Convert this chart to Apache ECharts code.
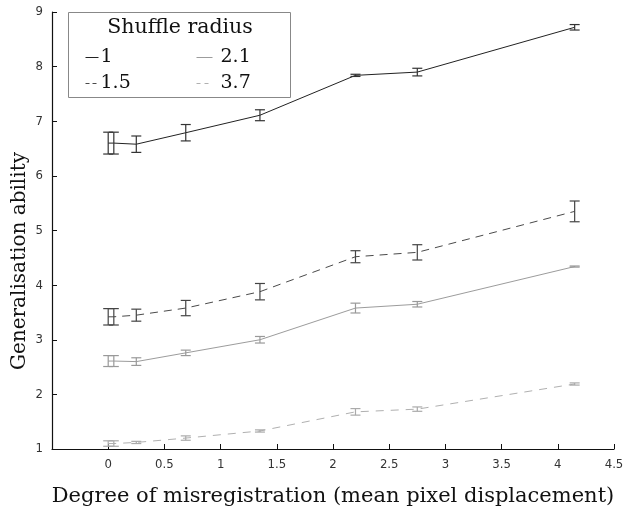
<!DOCTYPE html>
<html>
<head>
<meta charset="utf-8">
<script src="https://cdn.jsdelivr.net/npm/echarts@6/dist/echarts.min.js"></script>
<style>
  html, body { margin: 0; padding: 0; background: #fff; }
  #chart { width: 628px; height: 512px; }
</style>
</head>
<body>
<div id="chart"></div>
<script>
// misregistration values (mean pixel displacement)
let xValues = [0, 0.05, 0.25, 0.69, 1.35, 2.2, 2.75, 4.15];

let radii = ['1', '1.5', '2.1', '3.7'];

let mean1  = [6.6, 6.6, 6.58, 6.79, 7.11, 7.84, 7.9, 8.72];
let err1   = [0.2, 0.2, 0.15, 0.15, 0.1, 0.02, 0.07, 0.05];
let mean15 = [3.42, 3.42, 3.45, 3.58, 3.88, 4.52, 4.6, 5.35];
let err15  = [0.15, 0.15, 0.11, 0.14, 0.15, 0.11, 0.14, 0.19];
let mean21 = [2.61, 2.61, 2.6, 2.76, 3.0, 3.58, 3.65, 4.34];
let err21  = [0.1, 0.1, 0.07, 0.05, 0.06, 0.09, 0.05, 0.01];
let mean37 = [1.1, 1.1, 1.12, 1.2, 1.33, 1.68, 1.73, 2.19];
let err37  = [0.05, 0.05, 0.02, 0.04, 0.02, 0.06, 0.04, 0.02];

let xTicks = [0, 0.5, 1, 1.5, 2, 2.5, 3, 3.5, 4, 4.5];
let yTicks = [1, 2, 3, 4, 5, 6, 7, 8, 9];

let means = [mean1, mean15, mean21, mean37];
let errs  = [err1, err15, err21, err37];
let lineColors = ['#222', '#4a4a4a', '#9c9c9c', '#b0b0b0'];
let barColors  = ['#333', '#444', '#999', '#aaa'];
let dashes     = ['solid', [8, 6], 'solid', [8, 7]];

let serif = "'DejaVu Serif', 'Liberation Serif', serif";
let narrow = "'Liberation Sans Narrow', 'DejaVu Sans Condensed', 'Liberation Sans', sans-serif";

let chart = echarts.init(document.getElementById('chart'), null, {renderer: 'canvas'});

let series = [];
radii.forEach((r, i) => {
    series.push({
        name: r,
        type: 'line',
        symbol: 'none',
        data: xValues.map((x, j) => [x, means[i][j]]),
        lineStyle: {color: lineColors[i], width: 1, type: dashes[i]},
        itemStyle: {color: lineColors[i]},
        z: 3
    });
});
radii.forEach((r, i) => {
    series.push({
        type: 'custom',
        silent: true,
        clip: false,
        z: 4,
        data: xValues.map((x, j) => [x, means[i][j] - errs[i][j], means[i][j] + errs[i][j]]),
        encode: {x: 0, y: [1, 2]},
        renderItem: (params, api) => {
            let lo = api.coord([api.value(0), api.value(1)]);
            let hi = api.coord([api.value(0), api.value(2)]);
            let w = 5;
            let st = {stroke: barColors[i], lineWidth: 1.2};
            return {
                type: 'group',
                children: [
                    {type: 'line', shape: {x1: lo[0], y1: lo[1], x2: hi[0], y2: hi[1]}, style: st},
                    {type: 'line', shape: {x1: lo[0] - w, y1: lo[1], x2: lo[0] + w, y2: lo[1]}, style: st},
                    {type: 'line', shape: {x1: hi[0] - w, y1: hi[1], x2: hi[0] + w, y2: hi[1]}, style: st}
                ]
            };
        }
    });
});

let legendBase = {
    orient: 'vertical',
    top: 43,
    itemWidth: 13,
    itemHeight: 10,
    itemGap: 7,
    z: 10,
    selectedMode: false,
    itemStyle: {opacity: 0, color: 'rgba(0,0,0,0)', borderWidth: 0},
    textStyle: {fontFamily: serif, fontSize: 19, color: '#111', padding: [0, 0, 0, -3]}
};

let option = {
    animation: false,
    backgroundColor: '#fff',
    grid: {left: 52, right: 14, top: 12, bottom: 57},
    xAxis: {
        type: 'value',
        min: -0.5,
        max: 4.5,
        interval: 0.5,
        name: 'Degree of misregistration (mean pixel displacement)',
        nameLocation: 'middle',
        nameGap: 37,
        nameTextStyle: {fontFamily: serif, fontSize: 21, color: '#111'},
        axisLine: {onZero: false, lineStyle: {color: '#111', width: 1.2}},
        axisTick: {inside: true, length: 5, lineStyle: {color: '#111'}},
        axisLabel: {
            margin: 9,
            fontFamily: narrow,
            fontSize: 13,
            color: '#333',
            formatter: v => xTicks.indexOf(v) >= 0 ? String(v) : ''
        },
        splitLine: {show: false}
    },
    yAxis: {
        type: 'value',
        min: 1,
        max: 9,
        interval: 1,
        axisLine: {show: true, onZero: false, lineStyle: {color: '#111', width: 1.2}},
        axisTick: {show: true, inside: true, length: 5, lineStyle: {color: '#111'}},
        axisLabel: {
            margin: 9,
            fontFamily: narrow,
            fontSize: 13,
            color: '#333',
            formatter: v => yTicks.indexOf(v) >= 0 ? String(v) : ''
        },
        splitLine: {show: false}
    },
    legend: [
        Object.assign({}, legendBase, {
            left: 80,
            data: [
                {name: radii[0], lineStyle: {width: 1}},
                {name: radii[1], lineStyle: {width: 1, type: [4, 3]}}
            ]
        }),
        Object.assign({}, legendBase, {
            left: 191,
            itemWidth: 16,
            textStyle: {fontFamily: serif, fontSize: 19, color: '#111', padding: [0, 0, 0, 3]},
            data: [
                {name: radii[2], lineStyle: {width: 1}},
                {name: radii[3], lineStyle: {width: 1, type: [4, 4]}}
            ]
        })
    ],
    graphic: [
        {
            type: 'rect',
            z: 1,
            shape: {x: 68.5, y: 12.5, width: 222, height: 85},
            style: {fill: '#fff', stroke: '#888', lineWidth: 1}
        },
        {
            type: 'text',
            z: 2,
            x: 180,
            y: 28,
            style: {text: 'Shuffle radius', font: '20.5px ' + serif, fill: '#111', align: 'center', verticalAlign: 'middle'}
        },
        {
            type: 'text',
            z: 2,
            x: 20,
            y: 261,
            rotation: Math.PI / 2,
            style: {text: 'Generalisation ability', font: '20px ' + serif, fill: '#111', align: 'center', verticalAlign: 'middle'}
        }
    ],
    series: series
};

chart.setOption(option);
</script>
</body>
</html>
